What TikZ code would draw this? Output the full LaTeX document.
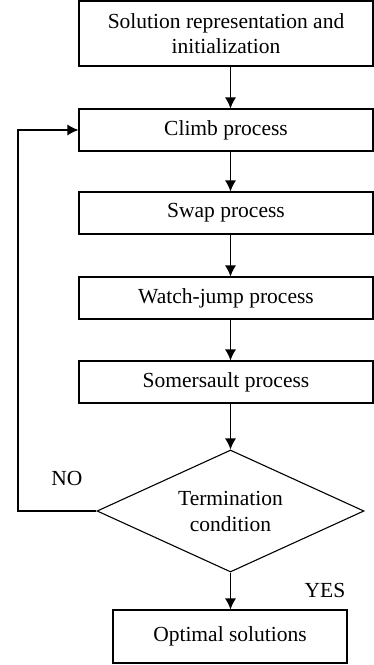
\documentclass[tikz,border=0pt]{standalone}
\usepackage{fontspec}
\setmainfont{Liberation Serif}
\usetikzlibrary{arrows.meta}
\usetikzlibrary{positioning}
\usetikzlibrary{shapes.geometric}

\begin{document}
\begin{tikzpicture}[x=1pt,y=-1pt]
\tikzset{
    procNode/.style={
                   draw,
                   line width=1.1pt,
                   minimum width=294pt,
                   minimum height=42pt,
                   inner sep=0pt,
                   align=center,
                   font=\fontsize{21.5}{25}\selectfont
    },
    decNode/.style={
                   draw,
                   diamond,
                   aspect=2.2,
                   line width=1.1pt,
                   minimum width=267pt,
                   minimum height=122pt,
                   inner sep=0pt,
                   align=center,
                   font=\fontsize{21.5}{26}\selectfont
    },
    labNode/.style={
                   font=\fontsize{21.5}{23}\selectfont
    }
}
    \useasboundingbox (0,0) rectangle (374,665);

    \node (init)[procNode, minimum height=65pt] at (226,33.5) {Solution representation and\\initialization};
    \node (climb)[procNode] at (226,130) {Climb process};
    \node (swap)[procNode] at (226,213) {Swap process};
    \node (watch)[procNode] at (226,298) {Watch-jump process};
    \node (somer)[procNode] at (226,382) {Somersault process};
    \node (term)[decNode] at (230.5,511) {Termination\\condition};
    \node (opt)[procNode, minimum width=234pt, minimum height=53pt] at (230,636.5) {Optimal solutions};
    \coordinate (loop) at (18,511);

    \node (no)[labNode] at (67,478) {NO};
    \node (yes)[labNode] at (325,590) {YES};

    \draw[->, line width=1.1pt, >={Latex[length=11pt,width=11pt]}] (init.south -| term.north) -- (climb.north -| term.north);
    \draw[->, line width=1.1pt, >={Latex[length=11pt,width=11pt]}] (climb.south -| term.north) -- (swap.north -| term.north);
    \draw[->, line width=1.1pt, >={Latex[length=11pt,width=11pt]}] (swap.south -| term.north) -- (watch.north -| term.north);
    \draw[->, line width=1.1pt, >={Latex[length=11pt,width=11pt]}] (watch.south -| term.north) -- (somer.north -| term.north);
    \draw[->, line width=1.1pt, >={Latex[length=11pt,width=11pt]}] (somer.south -| term.north) -- (term.north);
    \draw[->, line width=1.1pt, >={Latex[length=11pt,width=11pt]}] (term.south) -- (opt.north -| term.south);
    \draw[->, line width=1.1pt, >={Latex[length=11pt,width=11pt]}] (term.west) -- (loop) |- (climb.west);

\end{tikzpicture}
\end{document}
